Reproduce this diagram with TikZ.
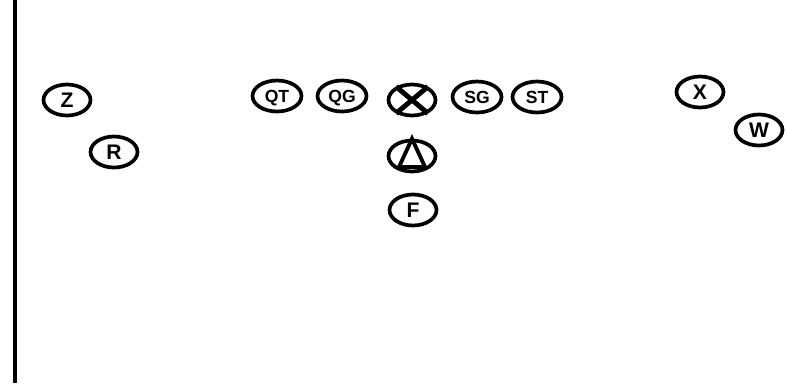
\documentclass[tikz,border=0pt]{standalone}
\usepackage{fontspec}
\setsansfont{Liberation Sans}
\usetikzlibrary{shapes.geometric}

\begin{document}
\begin{tikzpicture}[x=0.02cm, y=-0.02cm,
  player/.style={draw, ellipse, line width=2.1pt, minimum width=0.94cm, minimum height=0.62cm, inner sep=0pt, text height=8.6pt, text depth=0pt, font=\sffamily\bfseries\large},
  lineman/.style={player, minimum width=0.98cm, text height=7.2pt, font=\sffamily\bfseries}]
\useasboundingbox (0,0) rectangle (787,383);
\draw[line width=2pt] (15,0) -- (15,383);
\node[player] (Z) at (67,100) {Z};
\node[player] (R) at (114,152) {R};
\node[lineman] (QT) at (277,96) {QT};
\node[lineman] (QG) at (342,96) {QG};
\node[player] (C) at (412,100) {};
\draw[line width=2.8pt] (C.140) -- (C.-40);
\draw[line width=2.8pt] (C.40) -- (C.-140);
\node[lineman] (SG) at (477,97) {SG};
\node[lineman] (ST) at (537,97) {ST};
\node[player] (Q) at (412,156) {};
\draw[line width=2.2pt] (Q.north) -- ([shift={(-13,11)}]Q.center) -- ([shift={(13,11)}]Q.center) -- cycle;
\node[player] (F) at (413,210) {F};
\node[player] (X) at (700,92) {X};
\node[player] (W) at (759,130) {W};
\end{tikzpicture}
\end{document}
